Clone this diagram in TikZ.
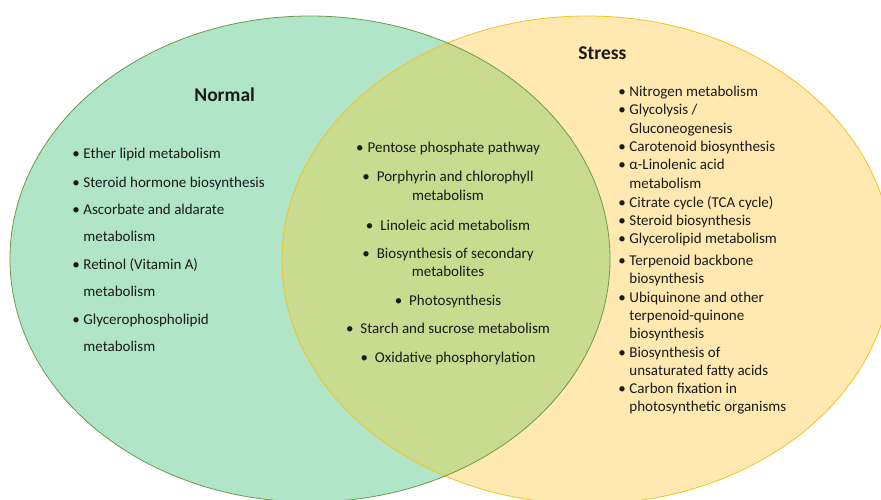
\documentclass[tikz,border=0pt]{standalone}
\usepackage{fontspec}
\setmainfont{Carlito}

\definecolor{normalfill}{HTML}{B0E5C8}
\definecolor{normalline}{HTML}{6E9A4A}
\definecolor{stressfill}{HTML}{FFE9B0}
\definecolor{stressline}{HTML}{F2C322}
\definecolor{bothfill}{HTML}{C8DB8E}
\definecolor{textcol}{HTML}{1A1A1A}

\newcommand{\pathlines}[1]{\begin{tabular}[t]{@{}l@{}}#1\end{tabular}}
\newcommand{\midlines}[1]{\begin{tabular}[t]{@{}c@{}}#1\end{tabular}}
\newcommand{\bul}{\textbullet\hspace{3.5pt}}

\begin{document}
\begin{tikzpicture}[x=1pt, y=-1pt,
                    line width=0.8pt,
                    text=textcol,
                    font=\fontsize{15}{18.4}\selectfont]
    \tikzstyle{setname}=[font=\fontsize{19.5}{23}\selectfont\bfseries, anchor=base west, inner sep=0pt]
    \tikzstyle{entry}=[anchor=base west, inner sep=0pt]
    \tikzstyle{wideentry}=[entry, execute at begin node={\def\arraystretch{1.5}}]
    \tikzstyle{shared}=[anchor=base, inner sep=0pt]

    \clip (0,0) rectangle (881,500);

    % the two sets and their overlap
    \fill[normalfill] (310,259) ellipse [x radius=300pt, y radius=243pt];
    \fill[stressfill] (587,260) ellipse [x radius=305pt, y radius=244pt];
    \begin{scope}
        \clip (310,259) ellipse [x radius=300pt, y radius=243pt];
        \fill[bothfill] (587,260) ellipse [x radius=305pt, y radius=244pt];
    \end{scope}
    \draw[stressline] (587,260) ellipse [x radius=305pt, y radius=244pt];
    \draw[normalline] (310,259) ellipse [x radius=300pt, y radius=243pt];

    \node[setname] (normal) at (194,102) {Normal};
    \node[setname] (stress) at (578,60) {Stress};

    % normal only
    \node[wideentry] (n1) at (72,159) {\bul Ether lipid metabolism};
    \node[wideentry] (n2) at (72,187) {\bul Steroid hormone biosynthesis};
    \node[wideentry] (n3) at (72,214) {\bul\pathlines{Ascorbate and aldarate\\metabolism}};
    \node[wideentry] (n4) at (72,269) {\bul\pathlines{Retinol (Vitamin A)\\metabolism}};
    \node[wideentry] (n5) at (72,324) {\bul\pathlines{Glycerophospholipid\\metabolism}};

    % both
    \node[shared] (b1) at (448,153) {\textbullet\hspace{4pt}Pentose phosphate pathway};
    \node[shared] (b2) at (448,182) {\midlines{\textbullet\hspace{7pt}Porphyrin and chlorophyll\\metabolism}};
    \node[shared] (b3) at (448,230) {\textbullet\hspace{7pt}Linoleic acid metabolism};
    \node[shared] (b4) at (448,258) {\midlines{\textbullet\hspace{7pt}Biosynthesis of secondary\\metabolites}};
    \node[shared] (b5) at (448,305) {\textbullet\hspace{7pt}Photosynthesis};
    \node[shared] (b6) at (448,333) {\textbullet\hspace{7pt}Starch and sucrose metabolism};
    \node[shared] (b7) at (448,362) {\textbullet\hspace{7pt}Oxidative phosphorylation};

    % stress only
    \node[entry] (s1) at (618,97) {\bul Nitrogen metabolism};
    \node[entry] (s2) at (618,115) {\bul\pathlines{Glycolysis /\\Gluconeogenesis}};
    \node[entry] (s3) at (618,152) {\bul Carotenoid biosynthesis};
    \node[entry] (s4) at (618,170) {\bul\pathlines{α-Linolenic acid\\metabolism}};
    \node[entry] (s5) at (618,207) {\bul Citrate cycle (TCA cycle)};
    \node[entry] (s6) at (618,225) {\bul Steroid biosynthesis};
    \node[entry] (s7) at (618,243) {\bul Glycerolipid metabolism};
    \node[entry] (s8) at (618,265) {\bul\pathlines{Terpenoid backbone\\biosynthesis}};
    \node[entry] (s9) at (618,302) {\bul\pathlines{Ubiquinone and other\\terpenoid-quinone\\biosynthesis}};
    \node[entry] (s10) at (618,357) {\bul\pathlines{Biosynthesis of\\unsaturated fatty acids}};
    \node[entry] (s11) at (618,393) {\bul\pathlines{Carbon fixation in\\photosynthetic organisms}};
\end{tikzpicture}
\end{document}
